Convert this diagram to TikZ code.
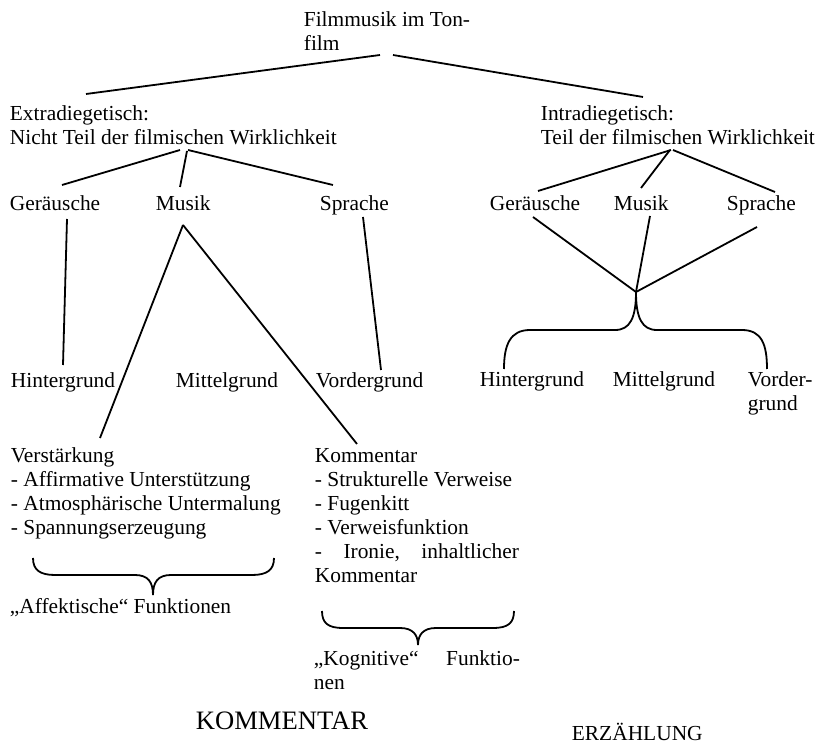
\documentclass[tikz,border=0pt]{standalone}
\usepackage{fontspec}
\setmainfont{Liberation Serif}
\usetikzlibrary{calc}

\begin{document}
\begin{tikzpicture}[x=0.5pt, y=-0.5pt, line width=0.9pt,
  every node/.style={inner sep=0pt, anchor=base west, align=left, font=\fontsize{10.7}{12}\selectfont}]
  \useasboundingbox (0,0) rectangle (816,743);

  % mehrzeilige Knoten sitzen auf ihrer letzten Zeile
  \node (root) at (303,51) {Filmmusik im Ton-\\film};
  \node (extra) at (9,145) {Extradiegetisch:\\Nicht Teil der filmischen Wirklichkeit};
  \node (intra) at (540,145) {Intradiegetisch:\\Teil der filmischen Wirklichkeit};

  \node (ger1) at (9,211) {Geräusche};
  \node (mus1) at (155,211) {Musik};
  \node (spr1) at (319,211) {Sprache};
  \node (ger2) at (489,211) {Geräusche};
  \node (mus2) at (613,211) {Musik};
  \node (spr2) at (726,211) {Sprache};

  \node (hin1) at (10,388) {Hintergrund};
  \node (mit1) at (175,388) {Mittelgrund};
  \node (vor1) at (315,388) {Vordergrund};
  \node (hin2) at (479,387) {Hintergrund};
  \node (mit2) at (612,387) {Mittelgrund};
  \node (vor2) at (747,411) {Vorder-\\grund};

  \node (verst) at (10,535) {Verstärkung\\- Affirmative Unterstützung\\- Atmosphärische Untermalung\\- Spannungserzeugung};
  \node (komm) at (314,583) {Kommentar\\- Strukturelle Verweise\\- Fugenkitt\\- Verweisfunktion\\\hbox to 102pt{-\hfill Ironie,\hfill inhaltlicher}\\Kommentar};
  \node (affekt) at (9,614) {„Affektische“ Funktionen};
  \node (kogn) at (313,690) {\hbox to 103pt{„Kognitive“\hfill Funktio-}\\nen};

  \node (kommentar) at (195,730) [font=\fontsize{13.3}{15}\selectfont] {KOMMENTAR};
  \node (erzaehlung) at (571,741) {ERZÄHLUNG};

  % obere Ebene
  \draw ($(root.base west)+(77,4)$) -- ($(extra.base west)+(77,-51)$);
  \draw ($(root.base west)+(90,4)$) -- ($(intra.base west)+(103,-48)$);

  \draw ($(extra.base west)+(171,5)$) -- ($(ger1.base west)+(53,-26)$);
  \draw ($(extra.base west)+(178,6)$) -- ($(mus1.base west)+(25,-24)$);
  \draw ($(extra.base west)+(179,5)$) -- ($(spr1.base west)+(14,-26)$);
  \draw ($(intra.base west)+(131,5)$) -- ($(ger2.base west)+(49,-20)$);
  \draw ($(intra.base west)+(130,5)$) -- ($(mus2.base west)+(28,-23)$);
  \draw ($(intra.base west)+(133,5)$) -- ($(spr2.base west)+(49,-19)$);

  % extradiegetisch
  \draw ($(ger1.base west)+(58,8)$) -- ($(hin1.base west)+(53,-23)$);
  \draw ($(mus1.base west)+(28,14)$) -- ($(verst.base west)+(90,-97)$);
  \draw ($(mus1.base west)+(28,14)$) -- ($(komm.base west)+(43,-139)$);
  \draw ($(spr1.base west)+(44,6)$) -- ($(vor1.base west)+(66,-18)$);

  % intradiegetisch
  \coordinate (knot) at (636,292);
  \draw ($(ger2.base west)+(44,6)$) -- (knot);
  \draw ($(mus2.base west)+(37,5)$) -- (knot);
  \draw ($(spr2.base west)+(31,16)$) -- (knot);
  \draw ($(hin2.base west)+(25,-18)$) .. controls (504,345) and (510,330) .. (530,330) -- (615,330)
    .. controls (630,330) and (636,318) .. (knot) .. controls (636,318) and (642,330) .. (657,330)
    -- (742,330) .. controls (762,330) and (767,345) .. ($(vor2.base west)+(20,-42)$);

  % Klammern
  \draw (33,558) .. controls (33,570) and (40,575) .. (55,575) -- (135,575)
    .. controls (148,575) and (153,582) .. (153,595) .. controls (153,582) and (158,575) .. (171,575)
    -- (252,575) .. controls (267,575) and (274,570) .. (274,558);
  \draw (322,611) .. controls (322,623) and (328,628) .. (343,628) -- (400,628)
    .. controls (413,628) and (418,635) .. (418,645) .. controls (418,635) and (423,628) .. (436,628)
    -- (493,628) .. controls (508,628) and (514,623) .. (514,611);
\end{tikzpicture}
\end{document}
